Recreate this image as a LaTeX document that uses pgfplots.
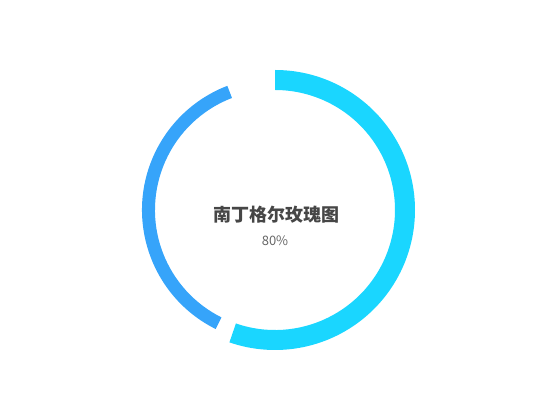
\documentclass[border=0pt]{standalone}
\usepackage{fontspec}
\setmainfont{Noto Sans CJK SC}
\usepackage{pgfplots}
\usepackage{pgfplotstable}
\pgfplotsset{compat=1.18}

\definecolor{cyanseg}{RGB}{26,214,255}
\definecolor{blueseg}{RGB}{54,164,250}
\definecolor{titlegray}{RGB}{70,70,70}
\definecolor{subgray}{RGB}{102,102,102}

% ring segments: start/end angle (deg), inner/outer radius (px)
\pgfplotstableread{
start end rin rout col
90 -109 120 140 cyanseg
-116.5 -249 120 133 blueseg
}\segs

\begin{document}
\begin{tikzpicture}
\begin{axis}[
  width=550pt, height=420pt,
  scale only axis,
  xmin=-275, xmax=275,
  ymin=-210, ymax=210,
  hide axis,
  clip=false,
]
\addplot[draw=none] coordinates {(-275,-210) (275,210)};
\coordinate (O) at (axis cs:0,0);
\pgfplotsinvokeforeach{0,1}{
  \pgfplotstablegetelem{#1}{start}\of\segs \let\sa\pgfplotsretval
  \pgfplotstablegetelem{#1}{end}\of\segs \let\ea\pgfplotsretval
  \pgfplotstablegetelem{#1}{rin}\of\segs \let\ri\pgfplotsretval
  \pgfplotstablegetelem{#1}{rout}\of\segs \let\ro\pgfplotsretval
  \pgfplotstablegetelem{#1}{col}\of\segs \let\cc\pgfplotsretval
  \edef\temp{\noexpand\fill[\cc] ([shift={(\sa:\ro pt)}]O)
    arc[start angle=\sa, end angle=\ea, radius=\ro pt]
    -- ([shift={(\ea:\ri pt)}]O)
    arc[start angle=\ea, end angle=\sa, radius=\ri pt] -- cycle;}
  \temp
}
\node[text=titlegray, font=\fontsize{18}{20}\selectfont\bfseries] at (axis cs:1,-5) {南丁格尔玫瑰图};
\node[text=subgray, font=\fontsize{13}{15}\selectfont] at (axis cs:0,-31) {80\%};
\end{axis}
\end{tikzpicture}
\end{document}
